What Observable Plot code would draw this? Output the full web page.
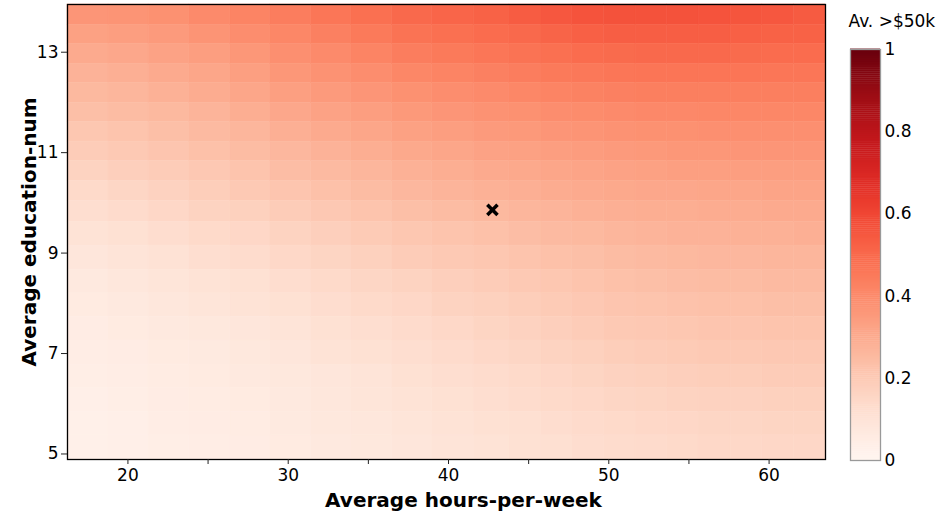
<!DOCTYPE html>
<html>
<head>
<meta charset="utf-8">
<script src="https://cdn.jsdelivr.net/npm/d3@7"></script>
<script src="https://cdn.jsdelivr.net/npm/@observablehq/plot@0.6"></script>
<style>
  html, body { margin: 0; padding: 0; background: white; }
  #wrap { position: relative; width: 940px; height: 515px; }
  #wrap > svg { position: absolute; left: 0; top: 0; }
</style>
</head>
<body>
<div id="wrap"></div>
<script>
// Grid cell edges (hours-per-week), left to right
const hoursEdges = [16.23, 18.79, 21.29, 23.83, 26.39, 28.88, 31.42, 33.94, 36.48, 38.98, 41.57,
  43.80, 45.80, 47.72, 49.69, 51.67, 53.65, 55.60, 57.60, 59.58, 61.55, 63.52];
// Grid cell edges (education-num), top to bottom
const eduEdges = [13.95, 13.54, 13.17, 12.77, 12.39, 11.99, 11.61, 11.22, 10.84, 10.44, 10.04,
  9.62, 9.15, 8.67, 8.20, 7.73, 7.26, 6.78, 6.31, 5.84, 5.37, 4.89];
// Average share >$50k per cell, rows top (high education) to bottom
const row00 = [.365, .37, .38, .40, .42, .44, .46, .48, .50, .51, .52, .535, .55, .56, .565, .565, .565, .56, .555, .55, .54];
const row01 = [.33, .34, .35, .37, .39, .41, .43, .45, .47, .48, .49, .50, .515, .525, .53, .53, .53, .53, .525, .52, .52];
const row02 = [.30, .31, .325, .34, .36, .385, .40, .42, .44, .45, .46, .47, .48, .49, .495, .50, .50, .50, .495, .49, .49];
const row03 = [.275, .285, .30, .315, .335, .36, .375, .39, .41, .42, .43, .44, .45, .455, .46, .465, .465, .465, .465, .46, .46];
const row04 = [.255, .265, .28, .295, .315, .335, .35, .365, .38, .39, .40, .41, .42, .425, .43, .435, .435, .435, .435, .435, .435];
const row05 = [.235, .245, .255, .27, .29, .31, .325, .34, .355, .365, .375, .38, .39, .395, .40, .405, .405, .41, .41, .41, .41];
const row06 = [.21, .22, .235, .25, .265, .285, .30, .315, .33, .34, .35, .355, .365, .37, .375, .38, .38, .385, .385, .385, .385];
const row07 = [.19, .20, .215, .23, .245, .26, .275, .29, .305, .315, .325, .33, .34, .345, .35, .355, .36, .36, .365, .365, .365];
const row08 = [.165, .18, .19, .205, .22, .24, .25, .265, .28, .29, .30, .305, .315, .32, .325, .33, .335, .335, .34, .34, .34];
const row09 = [.14, .155, .17, .185, .20, .215, .23, .245, .26, .27, .28, .285, .295, .30, .305, .31, .31, .315, .315, .32, .32];
const row10 = [.12, .135, .15, .165, .175, .19, .205, .22, .235, .245, .255, .265, .27, .28, .285, .29, .29, .295, .295, .30, .30];
const row11 = [.10, .11, .125, .14, .15, .165, .18, .195, .21, .22, .23, .24, .25, .255, .265, .27, .275, .275, .28, .28, .285];
const row12 = [.085, .095, .105, .12, .13, .145, .16, .175, .19, .20, .21, .22, .23, .235, .245, .25, .255, .26, .26, .265, .265];
const row13 = [.07, .08, .09, .10, .11, .125, .14, .155, .165, .18, .19, .20, .21, .22, .23, .235, .24, .245, .245, .25, .25];
const row14 = [.06, .07, .08, .09, .10, .11, .125, .14, .15, .165, .175, .185, .195, .205, .215, .22, .225, .23, .23, .235, .235];
const row15 = [.05, .06, .07, .075, .085, .095, .11, .12, .135, .145, .16, .17, .18, .19, .20, .205, .21, .215, .215, .22, .22];
const row16 = [.045, .05, .06, .065, .075, .085, .10, .11, .12, .135, .145, .155, .165, .175, .185, .19, .195, .20, .20, .205, .205];
const row17 = [.04, .045, .055, .06, .07, .075, .085, .095, .11, .12, .13, .14, .15, .16, .17, .175, .18, .185, .185, .19, .19];
const row18 = [.035, .04, .05, .055, .06, .07, .08, .09, .10, .11, .12, .13, .14, .145, .155, .16, .165, .17, .17, .175, .175];
const row19 = [.03, .035, .045, .05, .055, .065, .075, .08, .09, .10, .11, .115, .125, .135, .14, .145, .15, .155, .155, .16, .16];
const row20 = [.03, .035, .04, .045, .05, .06, .07, .075, .085, .095, .10, .11, .115, .125, .13, .135, .14, .145, .145, .15, .15];
const gridRows = [row00, row01, row02, row03, row04, row05, row06, row07, row08, row09, row10,
  row11, row12, row13, row14, row15, row16, row17, row18, row19, row20];

// Mean point marker
const markerHours = [42.74];
const markerEdu = [9.86];

// Ticks and texts
const xTicks = [20, 25, 30, 35, 40, 45, 50, 55, 60];
const yTicks = [5, 7, 9, 11, 13];
const legendTicks = [0, 0.2, 0.4, 0.6, 0.8, 1];
const xLabel = "Average hours-per-week";
const yLabel = "Average education-num";
const legendTitle = "Av. >$50k";

const cells = gridRows.flatMap((row, i) => row.map((v, j) => ({
  x1: hoursEdges[j], x2: hoursEdges[j + 1], y1: eduEdges[i + 1], y2: eduEdges[i], v
})));
const markers = markerHours.map((h, i) => ({h, e: markerEdu[i]}));

const font = "DejaVu Sans, Verdana, sans-serif";

const main = Plot.plot({
  width: 940, height: 515,
  marginLeft: 67, marginRight: 115, marginTop: 4, marginBottom: 56,
  x: {domain: [hoursEdges[0], hoursEdges[hoursEdges.length - 1]]},
  y: {domain: [eduEdges[eduEdges.length - 1], eduEdges[0]]},
  color: {type: "linear", scheme: "reds", domain: [0, 1]},
  style: {fontFamily: font, fontSize: "17px", color: "black", background: "white"},
  marks: [
    Plot.rect(cells, {x1: "x1", x2: "x2", y1: "y1", y2: "y2", fill: "v", stroke: "v", strokeWidth: 0.5}),
    Plot.frame({stroke: "black", strokeWidth: 1.3}),
    Plot.axisX({ticks: xTicks, tickFormat: d => d % 10 === 0 ? String(d) : "", tickSize: 5, tickPadding: 4, label: null, fontSize: 17, stroke: "#222"}),
    Plot.axisY({ticks: yTicks, tickSize: 6, tickPadding: 3, label: null, fontSize: 17, stroke: "#222"}),
    Plot.text([xLabel], {text: d => d, frameAnchor: "bottom", lineAnchor: "middle", dy: 41, dx: 17, fontWeight: "bold", fontSize: 20}),
    Plot.text([yLabel], {text: d => d, frameAnchor: "left", rotate: -90, textAnchor: "middle", lineAnchor: "middle", dx: -38, dy: 0, fontWeight: "bold", fontSize: 20}),
    Plot.dot(markers, {x: "h", y: "e", symbol: "times", r: 4.7, stroke: "black", strokeWidth: 3.5})
  ]
});

const legendSteps = d3.range(0, 1, 0.005);
const legend = Plot.plot({
  width: 940, height: 515,
  marginLeft: 850, marginRight: 60, marginTop: 49, marginBottom: 55,
  x: {domain: [0, 1], axis: null},
  y: {domain: [0, 1], axis: null},
  color: {type: "linear", scheme: "reds", domain: [0, 1]},
  style: {fontFamily: font, fontSize: "17px", color: "black", background: "transparent"},
  marks: [
    Plot.rect(legendSteps, {x1: 0, x2: 1, y1: d => d, y2: d => d + 0.006, fill: d => d + 0.0025}),
    Plot.frame({stroke: "#999", strokeWidth: 1.3}),
    Plot.axisY({anchor: "right", ticks: legendTicks, tickSize: 0, tickPadding: 4, tickFormat: d => String(d), label: null, fontSize: 17}),
    Plot.text([legendTitle], {text: d => d, frameAnchor: "top-left", textAnchor: "start", dy: -35, dx: -2, fontSize: 17})
  ]
});

const wrap = document.getElementById("wrap");
wrap.appendChild(main);
wrap.appendChild(legend);
</script>
</body>
</html>
